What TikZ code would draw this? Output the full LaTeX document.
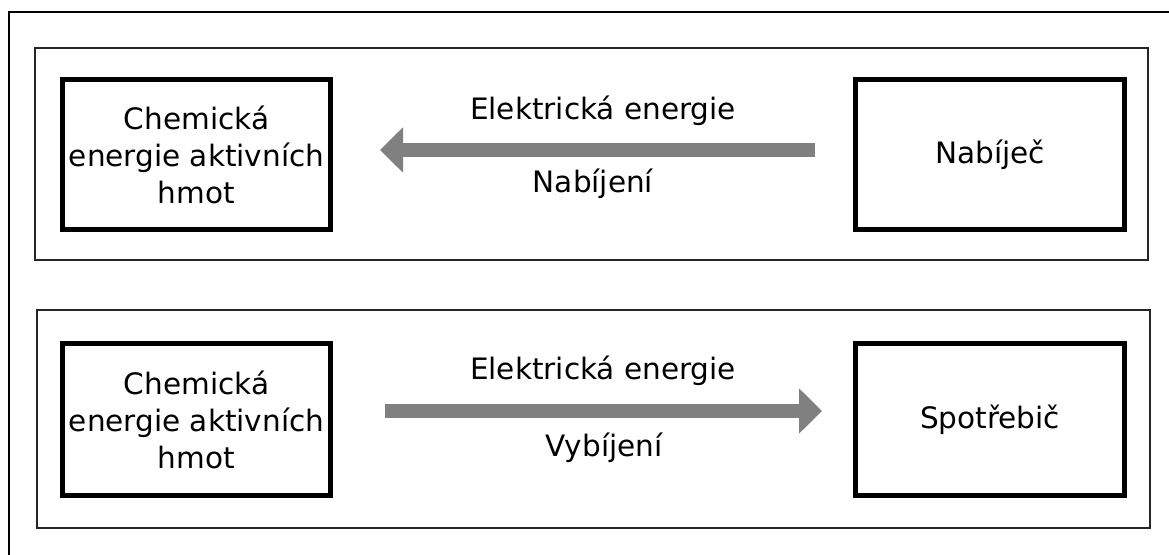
\documentclass[tikz,border=0pt]{standalone}
\usepackage{fontspec}
\setmainfont{DejaVu Sans}
\usetikzlibrary{arrows.meta}
\begin{document}
\begin{tikzpicture}[x=0.5pt,y=-0.5pt,
  every node/.style={inner sep=0pt},
  txt/.style={font=\fontsize{14.75}{18.5}\selectfont},
  block/.style={draw=black, line width=2.5pt, fill=white,
    minimum width=134pt, minimum height=75pt, align=center, txt},
  panel/.style={draw=black!85, line width=0.9pt},
  frame/.style={draw=black, line width=1pt},
  flow/.style={draw=black!50, line width=7pt,
    -{Triangle[length=11.5pt,width=22pt]}},
  lbl/.style={txt, anchor=base}]
\useasboundingbox (0,0) rectangle (1169,555);
\fill[white] (0,0) rectangle (1169,555);

% outer frame (runs off the page to the right and bottom)
\draw[frame] (9,555) -- (9,12) -- (1169,12);

% the two panels
\draw[panel] (35,48) rectangle (1148,260);
\draw[panel] (37,310) rectangle (1150,528);

% charging
\node[block] (chemA) at (196.5,154.5) {Chemická\\energie aktivních\\hmot};
\node[block, minimum width=134.5pt] (charger) at (990,154.5) {Nabíječ};
\draw[flow, shorten <=19pt, shorten >=23.5pt]
  ([yshift=2.25pt]charger.west) -- ([yshift=2.25pt]chemA.east);
\node[lbl] (elA) at (603,120) {Elektrická energie};
\node[lbl] (nab) at (593,193) {Nabíjení};

% discharging
\node[block, minimum height=76pt] (chemB) at (196.5,419.5) {Chemická\\energie aktivních\\hmot};
\node[block, minimum width=134.5pt, minimum height=76pt] (load) at (990,419.5) {Spotřebič};
\draw[flow, shorten <=26pt, shorten >=15.5pt]
  ([yshift=4.25pt]chemB.east) -- ([yshift=4.25pt]load.west);
\node[lbl] (elB) at (603,380) {Elektrická energie};
\node[lbl] (vyb) at (604,457) {Vybíjení};
\end{tikzpicture}
\end{document}
